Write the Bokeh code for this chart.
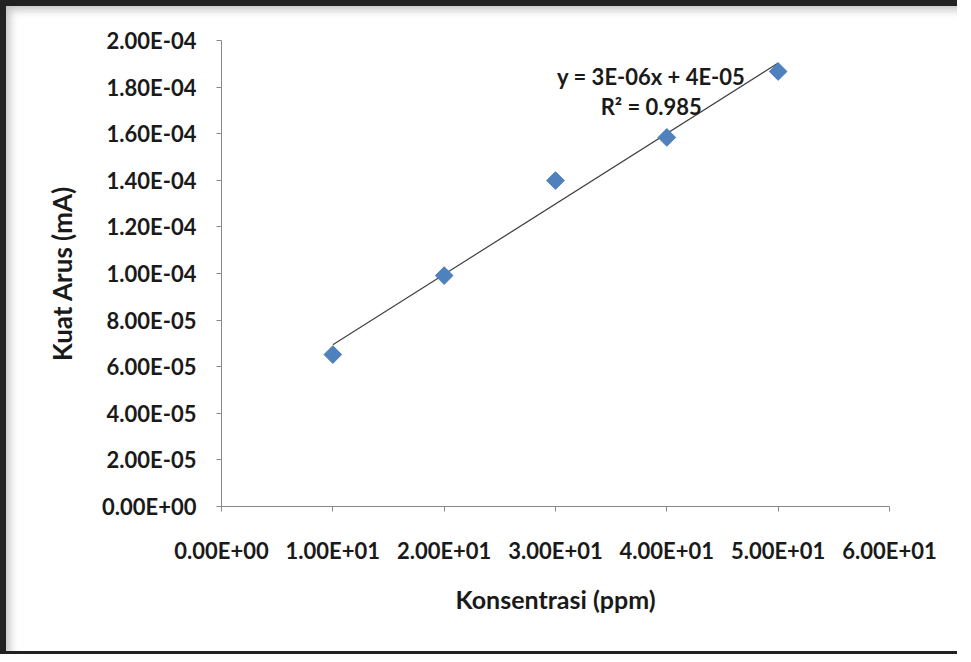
import numpy as np
from bokeh.plotting import figure
from bokeh.models import Range1d, FixedTicker, CustomJSTickFormatter, Label
from bokeh.embed import file_html
from bokeh.resources import INLINE

# ---- data ----
konsentrasi = [10, 20, 30, 40, 50]
kuat_arus = [6.52e-5, 9.91e-5, 1.399e-4, 1.584e-4, 1.867e-4]

x_ticks = [0, 10, 20, 30, 40, 50, 60]
x_labels = ["0.00E+00", "1.00E+01", "2.00E+01", "3.00E+01", "4.00E+01", "5.00E+01", "6.00E+01"]
y_ticks = [0, 2e-5, 4e-5, 6e-5, 8e-5, 1e-4, 1.2e-4, 1.4e-4, 1.6e-4, 1.8e-4, 2e-4]
y_labels = ["0.00E+00", "2.00E-05", "4.00E-05", "6.00E-05", "8.00E-05", "1.00E-04",
            "1.20E-04", "1.40E-04", "1.60E-04", "1.80E-04", "2.00E-04"]

eq_text = "y = 3E-06x + 4E-05"
r2_text = "R\u00b2 = 0.985"
x_title = "Konsentrasi (ppm)"
y_title = "Kuat Arus (mA)"

FONT = "Lato"

p = figure(width=957, height=654, output_backend="svg", toolbar_location=None,
           x_range=Range1d(0, 60), y_range=Range1d(0, 2e-4),
           min_border_left=215, min_border_right=74, min_border_top=34, min_border_bottom=154)
p.styles = {"border-top": "6px solid #222222", "border-left": "6px solid #222222",
            "border-bottom": "3px solid #222222",
            "background-color": "white",
            "box-shadow": "inset 7px 7px 9px -3px #c4c4c4"}
p.outline_line_color = None
p.xgrid.visible = False
p.ygrid.visible = False
p.background_fill_color = None
p.border_fill_color = None

fmt_code = """
let best = 0; let d = Infinity;
for (let i = 0; i < tv.length; i++) {
  const dd = Math.abs(tv[i] - tick);
  if (dd < d) { d = dd; best = i; }
}
return lbl[best];
"""

p.xaxis.ticker = FixedTicker(ticks=x_ticks)
p.xaxis.formatter = CustomJSTickFormatter(args=dict(tv=x_ticks, lbl=x_labels), code=fmt_code)
p.yaxis.ticker = FixedTicker(ticks=y_ticks)
p.yaxis.formatter = CustomJSTickFormatter(args=dict(tv=y_ticks, lbl=y_labels), code=fmt_code)

for ax in (p.xaxis, p.yaxis):
    ax.axis_line_color = "#888888"
    ax.major_tick_line_color = "#888888"
    ax.major_tick_in = 0
    ax.major_tick_out = 5
    ax.minor_tick_line_color = None
    ax.major_label_text_font = FONT
    ax.major_label_text_font_style = "bold"
    ax.major_label_text_font_size = "22px"
    ax.major_label_text_color = "#1a1a1a"
    ax.axis_label_text_font = FONT
    ax.axis_label_text_font_style = "bold"
    ax.axis_label_text_color = "#1a1a1a"

p.xaxis.axis_label = x_title
p.yaxis.axis_label = y_title
p.xaxis.axis_label_text_font_size = "25px"
p.yaxis.axis_label_text_font_size = "26px"
p.xaxis.major_label_standoff = 25
p.yaxis.major_label_standoff = 20
p.xaxis.axis_label_standoff = 17
p.yaxis.axis_label_standoff = 21

# trendline (linear least squares)
xs = np.array(konsentrasi, dtype=float)
ys = np.array(kuat_arus, dtype=float)
slope, intercept = np.polyfit(xs, ys, 1)
tx = [xs.min(), xs.max()]
ty = [slope * v + intercept for v in tx]
p.line(tx, ty, line_color="#404040", line_width=1.2)

p.scatter(konsentrasi, kuat_arus, marker="square", size=12.5, angle=np.pi / 4,
          fill_color="#4F81BD", line_color="#4A7EBB", line_width=1)

p.add_layout(Label(x=38.6, y=1.845e-4, text=eq_text, text_align="center", text_baseline="middle",
                   text_font=FONT, text_font_style="bold", text_font_size="22px", text_color="#1a1a1a"))
p.add_layout(Label(x=38.6, y=1.717e-4, text=r2_text, text_align="center", text_baseline="middle",
                   text_font=FONT, text_font_style="bold", text_font_size="22px", text_color="#1a1a1a"))

open("out.html", "w").write(file_html(p, INLINE))
